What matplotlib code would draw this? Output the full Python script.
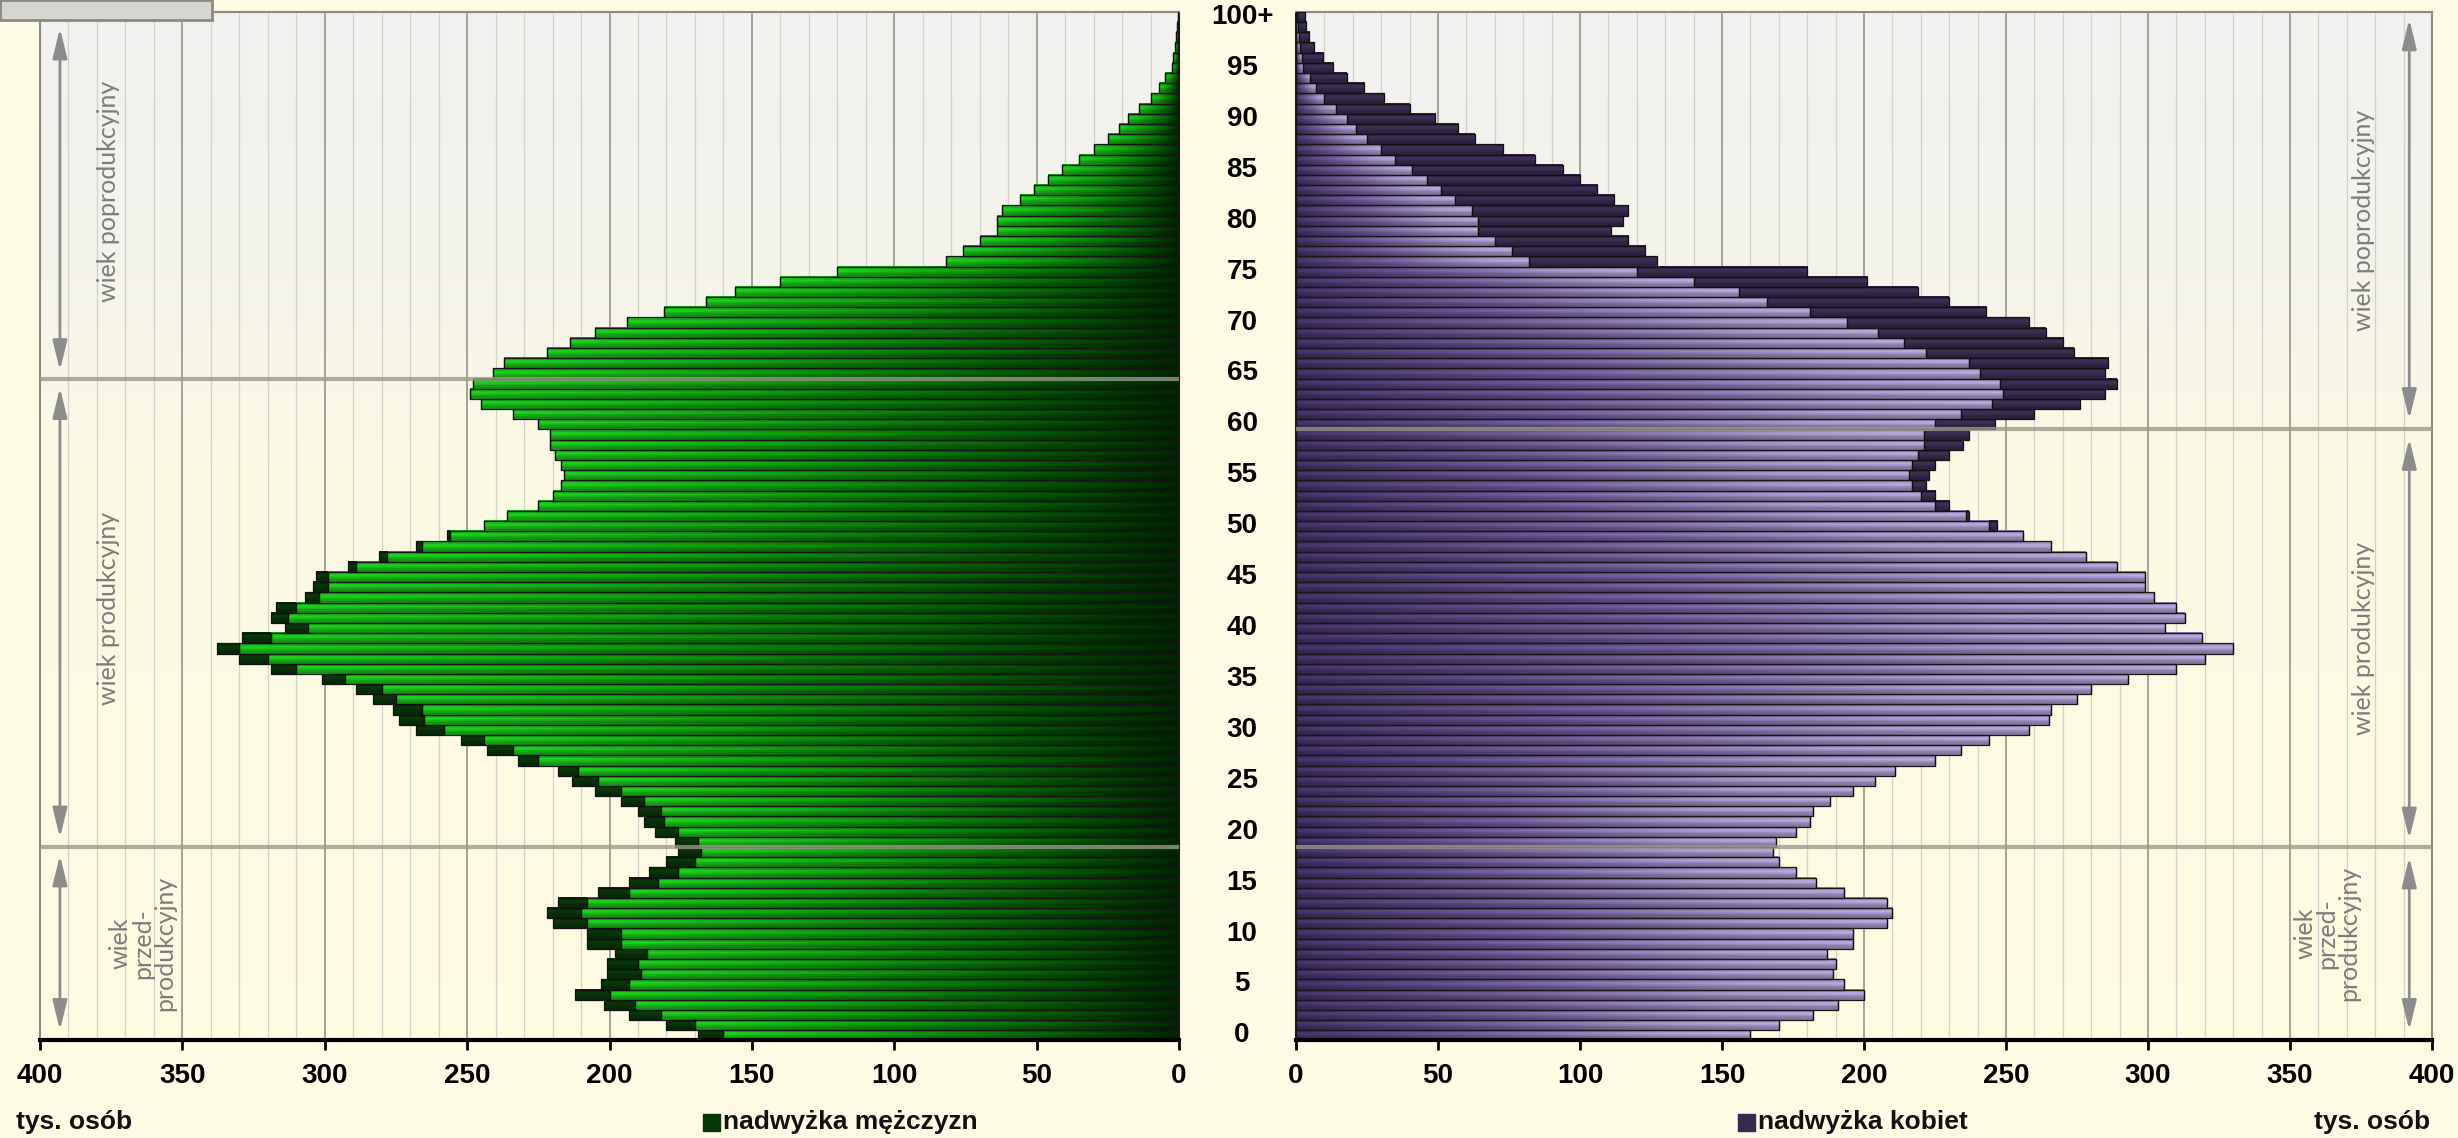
import numpy as np
import matplotlib.pyplot as plt
import matplotlib.transforms as mtransforms
from matplotlib.patches import Rectangle

# population by single year of age, thousands (0 .. 100+)
ages = np.arange(101)
men = [169, 180, 193, 202, 212, 203, 201, 201, 198, 208,
       208, 220, 222, 218, 204, 193, 186, 180, 176, 177,
       184, 188, 190, 196, 205, 213, 218, 232, 243, 252,
       268, 274, 276, 283, 289, 301, 319, 330, 338, 329,
       314, 319, 317, 307, 304, 303, 292, 281, 268, 257,
       244, 236, 225, 220, 217, 216, 217, 219, 221, 221,
       225, 234, 245, 249, 248, 241, 237, 222, 214, 205,
       194, 181, 166, 156, 140, 120, 82, 76, 70, 64,
       64, 62, 56, 51, 46, 41, 35, 30, 25, 21,
       18, 14, 10, 7, 5, 2.4, 2, 1.4, 1, 0.6, 0.4]
women = [160, 170, 182, 191, 200, 193, 189, 190, 187, 196,
         196, 208, 210, 208, 193, 183, 176, 170, 168, 169,
         176, 181, 182, 188, 196, 204, 211, 225, 234, 244,
         258, 265, 266, 275, 280, 293, 310, 320, 330, 319,
         306, 313, 310, 302, 299, 299, 289, 278, 266, 256,
         247, 237, 230, 225, 222, 223, 225, 230, 235, 237,
         246, 260, 276, 285, 289, 285, 286, 274, 270, 264,
         258, 243, 230, 219, 201, 180, 127, 123, 117, 111,
         115, 117, 112, 106, 100, 94, 84, 73, 63, 57,
         49, 40, 31, 24, 18, 13, 9.5, 6.5, 4.7, 3.6, 3]

age_ticks = list(range(0, 101, 5))
age_labels = [str(a) for a in age_ticks[:-1]] + ['100+']
x_ticks = list(range(0, 401, 50))

men = np.array(men, dtype=float)
women = np.array(women, dtype=float)
common = np.minimum(men, women)
men_extra = np.clip(men - women, 0, None)
women_extra = np.clip(women - men, 0, None)

NARROW = ['Liberation Sans Narrow', 'Liberation Sans', 'DejaVu Sans']

fig = plt.figure(figsize=(24.58, 11.38), dpi=100)
fig.patch.set_facecolor('#FDFBE4')

ax_m = fig.add_axes([40 / 2458, 0.0857, 1139 / 2458, 0.9038])
ax_f = fig.add_axes([1296 / 2458, 0.0857, 1136 / 2458, 0.9038])

# vertical shading of each bar (3d look)
fy = np.linspace(0, 1, 14)
shade = 0.78 + 0.32 * np.exp(-((fy - 0.62) / 0.26) ** 2)


def bar_img(stops_f, stops_c, n=64):
    fx = np.linspace(0, 1, n)
    base = np.stack([np.interp(fx, stops_f, [c[i] for c in stops_c]) for i in range(3)], axis=-1)
    return np.clip(shade[:, None, None] * base[None, :, :], 0, 1)


green_img = bar_img([0, 0.3, 0.65, 1.0],
                    [(0.0, 0.15, 0.0), (0.02, 0.38, 0.02), (0.05, 0.6, 0.05), (0.1, 0.76, 0.1)])
purple_img = bar_img([0, 0.4, 0.8, 1.0],
                     [(0.26, 0.19, 0.40), (0.43, 0.35, 0.58), (0.62, 0.56, 0.76), (0.66, 0.61, 0.80)])
dgreen_img = np.clip(shade[:, None, None] * np.array([0.03, 0.2, 0.03])[None, None, :], 0, 1)
dpurple_img = np.clip(shade[:, None, None] * np.array([0.22, 0.17, 0.31])[None, None, :], 0, 1)

# plot background gradient
by = np.linspace(-0.5, 100.5, 200)
bg_cols = np.stack([np.interp(by, [-0.5, 55, 75, 100.5], c) for c in
                    ([0.995, 0.99, 0.96, 0.945], [0.985, 0.978, 0.955, 0.945], [0.88, 0.89, 0.92, 0.94])], axis=-1)
bg = np.repeat(bg_cols[:, None, :], 2, axis=1)


def draw_side(ax, base, extra, img, dimg, dark_col):
    ax.imshow(bg, extent=(0, 400, -0.5, 100.5), origin='lower', aspect='auto', zorder=0)
    for v in range(10, 400, 10):
        major = v % 50 == 0
        ax.axvline(v, color='#9c9c92' if major else '#d2d2c8', lw=1.3 if major else 0.9, zorder=0.5)
    for a, b, e in zip(ages, base, extra):
        ax.imshow(img, extent=(0, b, a - 0.5, a + 0.5), origin='lower', aspect='auto',
                  interpolation='bilinear', zorder=2)
        if e > 0:
            ax.imshow(dimg, extent=(b, b + e, a - 0.5, a + 0.5), origin='lower', aspect='auto',
                      interpolation='bilinear', zorder=2)
    ax.barh(ages, base, height=1.0, facecolor='none', edgecolor='#161616', lw=0.9, zorder=3)
    ax.barh(ages, extra, left=base, height=1.0, facecolor='none', edgecolor='#101010', lw=0.9, zorder=3)
    ax.set_ylim(-0.5, 100.5)
    ax.set_yticks([])
    ax.set_xticks(x_ticks)
    ax.set_xticklabels([str(v) for v in x_ticks], fontsize=20, fontweight='bold', family=NARROW)
    ax.tick_params(axis='x', direction='out', length=7, width=2, color='black', pad=9)
    ax.spines['bottom'].set_linewidth(3)
    ax.spines['bottom'].set_color('black')
    for s in ('top', 'left', 'right'):
        ax.spines[s].set_color('#8a8a80')
        ax.spines[s].set_linewidth(1.5)


draw_side(ax_m, common, men_extra, green_img, dgreen_img, '#063806')
draw_side(ax_f, common, women_extra, purple_img, dpurple_img, '#382a4e')
ax_m.set_xlim(400, 0)
ax_f.set_xlim(0, 400)
ax_m.spines['right'].set_color('#1a1a1a')
ax_f.spines['left'].set_color('#1a1a1a')

# age group dividers
for ax, lines in ((ax_m, (64.5, 18.5)), (ax_f, (59.5, 18.5))):
    for y in lines:
        ax.axhline(y, color='#9a9a88', lw=3, alpha=0.8, zorder=6)

arrow = dict(arrowstyle='<|-|>,head_length=0.9,head_width=0.22', color='#8c8c8c', lw=2,
             mutation_scale=20, shrinkA=0, shrinkB=0)
lab = dict(rotation=90, color='#7c7c7c', fontsize=18, family=['Lato', 'DejaVu Sans'],
           ha='center', va='center', zorder=4)

for y0, y1 in ((98.9, 65.3), (63.6, 19.4), (17.7, 0.5)):
    ax_m.annotate('', xy=(393, y0), xytext=(393, y1), arrowprops=arrow, zorder=4)
ax_m.text(376, 82.9, 'wiek poprodukcyjny', **lab)
ax_m.text(376, 41.9, 'wiek produkcyjny', **lab)
ax_m.text(364, 9.0, 'wiek\nprzed-\nprodukcyjny', linespacing=0.95, **lab)

for y0, y1 in ((99.8, 60.5), (58.6, 19.3), (17.5, 0.5)):
    ax_f.annotate('', xy=(392, y0), xytext=(392, y1), arrowprops=arrow, zorder=4)
ax_f.text(376, 80, 'wiek poprodukcyjny', **lab)
ax_f.text(376, 39, 'wiek produkcyjny', **lab)
ax_f.text(363, 10, 'wiek\nprzed-\nprodukcyjny', linespacing=0.95, **lab)

# age labels between the two halves
tr = mtransforms.blended_transform_factory(fig.transFigure, ax_f.transData)
for a, t in zip(age_ticks, age_labels):
    fig.text(1242 / 2458, a, t, transform=tr, ha='center', va='center',
             fontsize=20, fontweight='bold', family=NARROW)

# units and legend
fy_txt = 1 - 1122 / 1138
fig.text(16 / 2458, fy_txt, 'tys. osób', ha='left', va='center', fontsize=19,
         fontweight='bold', family=NARROW, color='#111111')
fig.text(2430 / 2458, fy_txt, 'tys. osób', ha='right', va='center', fontsize=19,
         fontweight='bold', family=NARROW, color='#111111')

sq_h = 17 / 1138
sq_w = 17 / 2458
fig.patches.append(Rectangle((703 / 2458, fy_txt - sq_h / 2), sq_w, sq_h,
                             transform=fig.transFigure, color='#063806'))
fig.text(723 / 2458, fy_txt, 'nadwyżka mężczyzn', ha='left', va='center', fontsize=19,
         fontweight='bold', family=NARROW, color='#111111')
fig.patches.append(Rectangle((1738 / 2458, fy_txt - sq_h / 2), sq_w, sq_h,
                             transform=fig.transFigure, color='#382a4e'))
fig.text(1758 / 2458, fy_txt, 'nadwyżka kobiet', ha='left', va='center', fontsize=19,
         fontweight='bold', family=NARROW, color='#111111')

# small badge in the top-left corner
fig.patches.append(Rectangle((0, 1 - 20 / 1138), 212 / 2458, 20 / 1138, transform=fig.transFigure,
                             facecolor='#d6d6ce', edgecolor='#8a8a84', lw=2))

fig.savefig('out.png', dpi=100, facecolor=fig.get_facecolor())
